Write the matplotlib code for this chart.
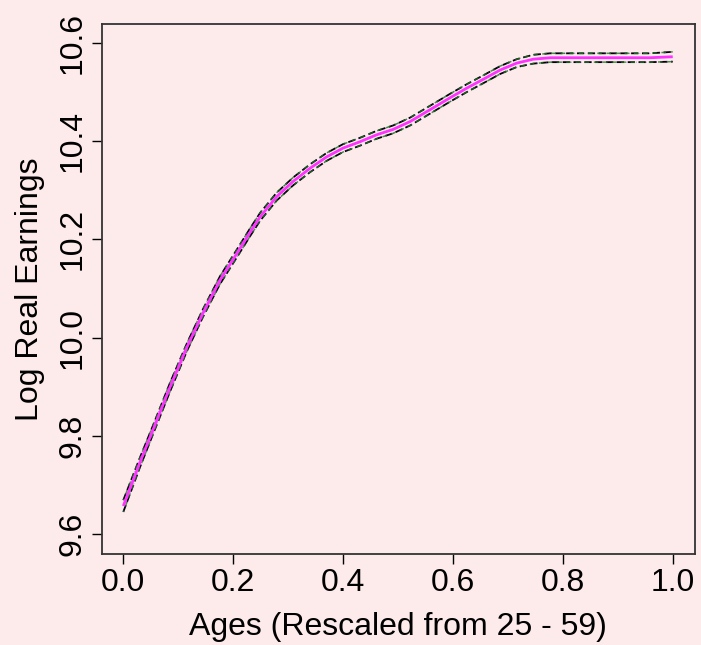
import matplotlib
matplotlib.use("Agg")
import matplotlib.pyplot as plt
import numpy as np

ages = [0.0, 0.030, 0.054, 0.085, 0.116, 0.145, 0.176, 0.207, 0.231, 0.249, 0.279,
        0.309, 0.340, 0.370, 0.400, 0.431, 0.461, 0.491, 0.522, 0.552, 0.582, 0.594,
        0.625, 0.655, 0.686, 0.716, 0.746, 0.777, 0.837, 0.898, 0.959, 1.0]
fit = [9.657, 9.745, 9.812, 9.899, 9.981, 10.050, 10.117, 10.172, 10.215, 10.246, 10.287,
       10.318, 10.345, 10.368, 10.386, 10.399, 10.413, 10.424, 10.440, 10.460, 10.480, 10.488,
       10.508, 10.526, 10.545, 10.559, 10.567, 10.570, 10.570, 10.570, 10.570, 10.572]
se = [0.012, 0.010, 0.009, 0.009, 0.008, 0.008, 0.008, 0.008, 0.008, 0.008, 0.008,
      0.008, 0.008, 0.008, 0.008, 0.008, 0.008, 0.008, 0.008, 0.008, 0.008, 0.008,
      0.008, 0.008, 0.008, 0.008, 0.009, 0.009, 0.009, 0.009, 0.009, 0.010]

xticks = [0.0, 0.2, 0.4, 0.6, 0.8, 1.0]
yticks = [9.6, 9.8, 10.0, 10.2, 10.4, 10.6]

bg = "#FDEAEA"
plt.rcParams['font.family'] = ['Liberation Sans', 'DejaVu Sans']

fig = plt.figure(figsize=(7.01, 6.45), dpi=100, facecolor=bg)
ax = fig.add_axes([0.1451, 0.1411, 0.8464, 0.8217])
ax.set_facecolor(bg)

x = np.array(ages)
y = np.array(fit)
s = np.array(se)
for band in (y + s, y - s):
    ax.plot(x, band, color="black", lw=1.3, linestyle=(0, (4, 2)))
    ax.plot(x, band, color="#1f7a1f", lw=1.1, linestyle=(2, (3, 3)), alpha=0.8)
    ax.plot(x, band, color="#3333ff", lw=0.6, linestyle=(0, (1, 5)), alpha=0.6)
ax.plot(x, y, color="#ff33ff", lw=2.0, solid_capstyle="butt")

ax.set_xlim(-0.0393, 1.0406)
ax.set_ylim(9.5593, 10.6387)
ax.set_xticks(xticks)
ax.set_xticklabels([f"{v:.1f}" for v in xticks])
ax.set_yticks(yticks)
ax.set_yticklabels([f"{v:.1f}" for v in yticks], rotation=90, va="center")
ax.tick_params(direction="out", length=7, width=1, labelsize=23, pad=3, colors="black")
for sp in ax.spines.values():
    sp.set_color("#333333")
    sp.set_linewidth(1.3)

ax.set_xlabel("Ages (Rescaled from 25 - 59)", fontsize=23, labelpad=10)
ax.set_ylabel("Log Real Earnings", fontsize=23, labelpad=9)

fig.savefig("out.png", dpi=100, facecolor=bg)
